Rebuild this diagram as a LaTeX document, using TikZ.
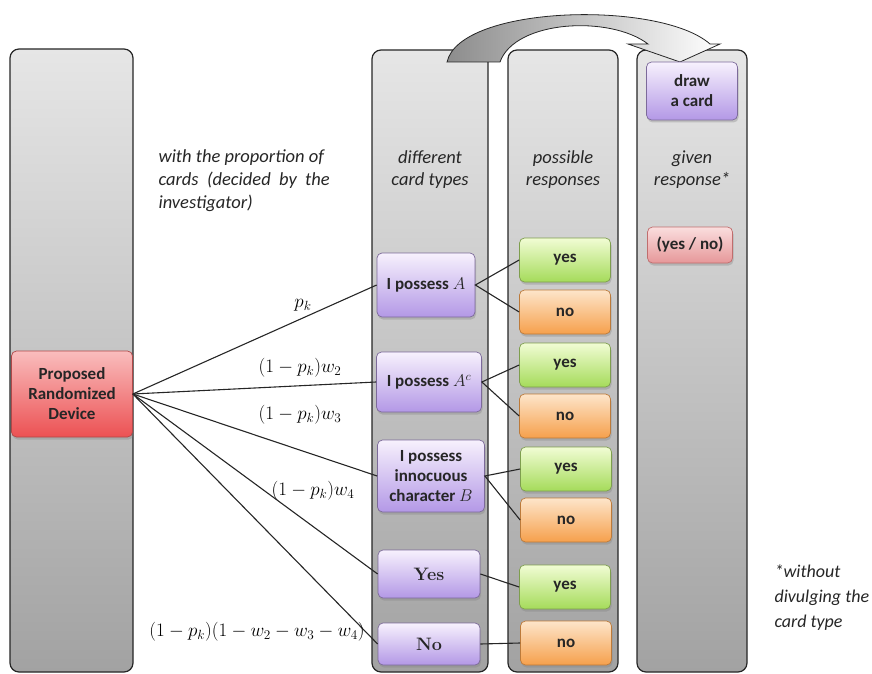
\RequirePackage{fix-cm}
\documentclass[tikz,border=0pt]{standalone}
\usepackage{fontspec}
\setsansfont{Carlito}
\usepackage{tikz}
\usetikzlibrary{positioning}
\usetikzlibrary{shadows}

\definecolor{lanetop}{HTML}{E6E6E6}
\definecolor{lanebot}{HTML}{A2A2A2}
\definecolor{cardtop}{HTML}{F7F1FD}
\definecolor{cardbot}{HTML}{B398E6}
\definecolor{cardline}{HTML}{7C6A9A}
\definecolor{yestop}{HTML}{F1FCD4}
\definecolor{yesbot}{HTML}{A5DB5A}
\definecolor{yesline}{HTML}{7E9E4E}
\definecolor{notop}{HTML}{FDE5CA}
\definecolor{nobot}{HTML}{F6A04C}
\definecolor{noline}{HTML}{BC7A3A}
\definecolor{devtop}{HTML}{F9BDBD}
\definecolor{devbot}{HTML}{EC5153}
\definecolor{devline}{HTML}{B04848}
\definecolor{anstop}{HTML}{FADEDE}
\definecolor{ansbot}{HTML}{E69799}

\tikzset{
  lane/.style={draw=black!85, line width=1.2pt, rounded corners=9pt,
    top color=lanetop, bottom color=lanebot},
  box/.style={rectangle, rounded corners=5pt, line width=0.7pt, align=center,
    text=black!85, font=\sffamily\bfseries\fontsize{17}{20}\selectfont,
    drop shadow={shadow xshift=1pt, shadow yshift=-2.5pt, opacity=0.35}},
  devbox/.style={box, draw=devline, top color=devtop, bottom color=devbot},
  cardbox/.style={box, draw=cardline, top color=cardtop, bottom color=cardbot},
  yesbox/.style={box, draw=yesline, top color=yestop, bottom color=yesbot,
    minimum width=91pt, minimum height=44pt},
  nobox/.style={box, draw=noline, top color=notop, bottom color=nobot,
    minimum width=91pt, minimum height=44pt},
  ansbox/.style={box, draw=devline!80, top color=anstop, bottom color=ansbot},
  caption/.style={font=\sffamily\itshape\fontsize{18.5}{22}\selectfont, text=black!85, align=center},
  prob/.style={font=\fontsize{19}{20}\selectfont, inner sep=1pt},
  link/.style={draw=black!85, line width=1.1pt},
}

\begin{document}
\begin{tikzpicture}[x=1pt,y=-1pt]
  \useasboundingbox (0,0) rectangle (872,674);
  % the four lanes
  \draw[lane] (10,49) rectangle (133,672);
  \draw[lane] (372,50) rectangle (488,672);
  \draw[lane] (508,50) rectangle (618,672);
  \draw[lane] (637,50) rectangle (747,672);

  % drawing arrow
  \draw[draw=black!85, line width=0.8pt, left color=black!45, right color=white]
    (447,62) .. controls (460,5) and (660,0) .. (710,44) -- (720,44) -- (680,62)
    -- (628,44) -- (648,44) .. controls (610,15) and (515,20) .. (500,62) -- cycle;

  % captions
  \node[caption, align=left, anchor=west, font=\sffamily\itshape\fontsize{18.5}{23}\selectfont]
    (propnote) at (155,181)
    {with the proportion of\\cards \ (decided \ by \ the\\investigator)};
  \node[caption] (cardcap) at (430,170) {different\\card types};
  \node[caption] (respcap) at (563,170) {possible\\responses};
  \node[caption] (givencap) at (692,170) {given\\response*};
  \node[caption, align=left, anchor=west, font=\sffamily\itshape\fontsize{18}{25}\selectfont]
    (footnote) at (771,598) {*without\\divulging the\\card type};

  % device and cards
  \node[devbox, minimum width=121pt, minimum height=86pt] (dev) at (72,394)
    {Proposed\\Randomized\\Device};
  \node[cardbox, minimum width=98pt, minimum height=64pt] (cardA) at (426,285) {I possess $A$};
  \node[cardbox, minimum width=105pt, minimum height=60pt] (cardAc) at (429,382) {I possess $A^c$};
  \node[cardbox, minimum width=107pt, minimum height=72pt] (cardB) at (431,476)
    {I possess\\innocuous\\character $B$};
  \node[cardbox, minimum width=102pt, minimum height=48pt,
    font=\rmfamily\bfseries\fontsize{18}{20}\selectfont] (cardYes) at (429,574) {Yes};
  \node[cardbox, minimum width=102pt, minimum height=42pt,
    font=\rmfamily\bfseries\fontsize{18}{20}\selectfont] (cardNo) at (429,644) {No};

  % responses
  \node[yesbox] (yesA) at (565,260) {yes};
  \node[nobox] (noA) at (565,312) {no};
  \node[yesbox] (yesAc) at (565,365) {yes};
  \node[nobox] (noAc) at (565,416) {no};
  \node[yesbox] (yesB) at (566,469) {yes};
  \node[nobox] (noB) at (566,520) {no};
  \node[yesbox] (yesYes) at (565,587) {yes};
  \node[nobox] (noNo) at (566,643) {no};

  \node[cardbox, minimum width=91pt, minimum height=58pt] (draw) at (692,91) {draw\\a card};
  \node[ansbox, minimum width=85pt, minimum height=36pt] (given) at (690,245) {(yes / no)};

  % links
  \draw[link] (dev.east) -- (cardA.west);
  \draw[link] (dev.east) -- (cardAc.west);
  \draw[link] (dev.east) -- (cardB.west);
  \draw[link] (dev.east) -- (cardYes.west);
  \draw[link] (dev.east) -- (cardNo.west);
  \draw[link] (yesA.west) -- (cardA.east) -- (noA.west);
  \draw[link] (yesAc.west) -- (cardAc.east) -- (noAc.west);
  \draw[link] (yesB.west) -- (cardB.east) -- (noB.west);
  \draw[link] (cardYes.east) -- (yesYes.west);
  \draw[link] (cardNo.east) -- (noNo.west);

  % probabilities
  \node[prob] (pA) at (303,305) {$p_k$};
  \node[prob] (pAc) at (300,368) {$(1-p_k)w_2$};
  \node[prob] (pB) at (300,415) {$(1-p_k)w_3$};
  \node[prob] (pYes) at (313,491) {$(1-p_k)w_4$};
  \node[prob] (pNo) at (257,632) {$(1-p_k)(1-w_2-w_3-w_4)$};
\end{tikzpicture}
\end{document}
